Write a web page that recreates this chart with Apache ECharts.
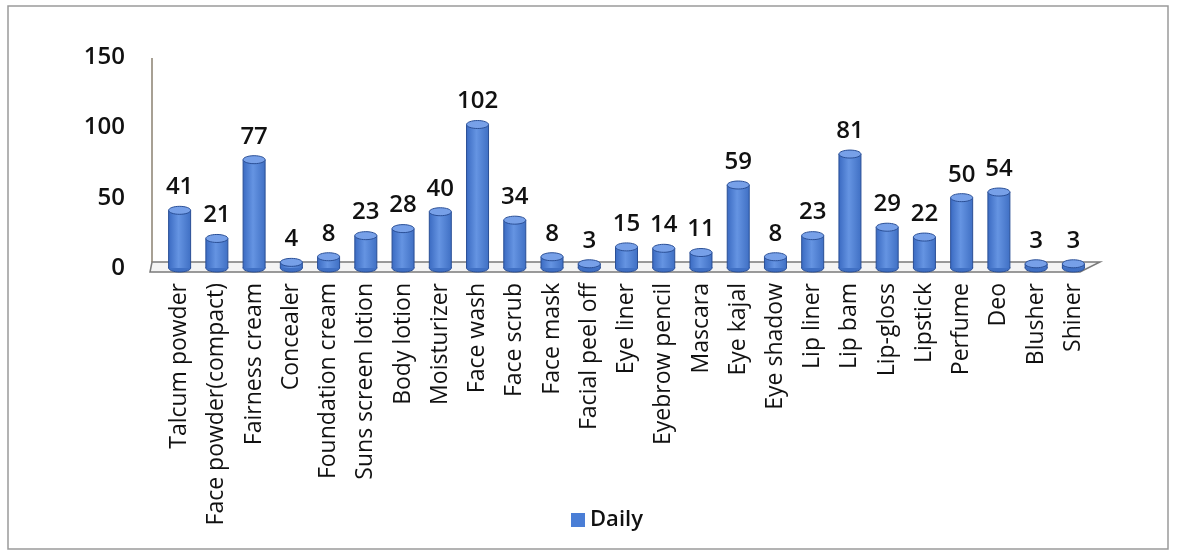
<!DOCTYPE html>
<html>
<head>
<meta charset="utf-8">
<script src="https://cdn.jsdelivr.net/npm/echarts@6/dist/echarts.min.js"></script>
<style>
html,body{margin:0;padding:0;background:#fff;}
#main{width:1177px;height:554px;}
</style>
</head>
<body>
<div id="main"></div>
<script>
// categories and values
var categories = ['Talcum powder','Face powder(compact)','Fairness cream','Concealer','Foundation cream',
    'Suns screen lotion','Body lotion','Moisturizer','Face wash','Face scrub','Face mask','Facial peel off',
    'Eye liner','Eyebrow pencil','Mascara','Eye kajal','Eye shadow','Lip liner','Lip bam','Lip-gloss',
    'Lipstick','Perfume','Deo','Blusher','Shiner'];
var daily = [41,21,77,4,8,23,28,40,102,34,8,3,15,14,11,59,8,23,81,29,22,50,54,3,3];
var yTicks = [0,50,100,150];

var chart = echarts.init(document.getElementById('main'));

// cylinder bar
function renderCylinder(params, api){
    var top = api.coord([api.value(0), api.value(1)]);
    var base = api.coord([api.value(0), 0]);
    var w = 22, ry = 4;
    var x = top[0] - w/2;
    var grad = new echarts.graphic.LinearGradient(0,0,1,0,[
        {offset:0,color:'#3b6bc2'},
        {offset:0.45,color:'#6594e2'},
        {offset:1,color:'#4070c4'}
    ]);
    return {
        type:'group',
        children:[
            {type:'ellipse',shape:{cx:top[0],cy:base[1],rx:w/2,ry:ry},style:{fill:'#4070c4',stroke:'#2a4f96',lineWidth:1}},
            {type:'rect',shape:{x:x,y:top[1],width:w,height:Math.max(base[1]-top[1],0)},style:{fill:grad}},
            {type:'line',shape:{x1:x,y1:top[1],x2:x,y2:base[1]},style:{stroke:'#2a4f96',lineWidth:1}},
            {type:'line',shape:{x1:x+w,y1:top[1],x2:x+w,y2:base[1]},style:{stroke:'#2a4f96',lineWidth:1}},
            {type:'ellipse',shape:{cx:top[0],cy:top[1],rx:w/2,ry:ry},style:{fill:'#77a0e8',stroke:'#2a4f96',lineWidth:1}},
            {type:'text',x:top[0],y:top[1]-11,style:{text:String(api.value(1)),fill:'#111',
                font:'600 24px "Open Sans"',align:'center',verticalAlign:'bottom'}}
        ]
    };
}

var option = {
    animation:false,
    graphic:[
        {type:'rect',shape:{x:8,y:6,width:1160,height:543},style:{fill:'none',stroke:'#9a9a9a',lineWidth:1.5},silent:true},
        // floor of the 3D plot area
        {type:'polygon',shape:{points:[[152,262],[1100,262],[1080,272],[150,272]]},
            style:{fill:'#f4f4f4',stroke:'#7a7a7a',lineWidth:1.5},z:-1,silent:true},
        {type:'line',shape:{x1:152,y1:58,x2:152,y2:262},style:{stroke:'#8a8170',lineWidth:1.5},silent:true}
    ],
    legend:{
        data:[{name:'Daily',icon:'rect',itemStyle:{color:'#4a7ed6'}}],
        left:566,
        top:504,
        itemWidth:14,
        itemHeight:14,
        itemGap:6,
        textStyle:{fontSize:22,fontWeight:600,color:'#111',fontFamily:'Open Sans'}
    },
    grid:{left:161,right:85,top:57,bottom:286},
    xAxis:{
        type:'category',
        data:categories,
        axisLine:{show:false},
        axisTick:{show:false},
        axisLabel:{rotate:90,interval:0,margin:15,fontSize:23,color:'#111',fontFamily:'Open Sans'}
    },
    yAxis:{
        type:'value',
        min:0,max:150,interval:50,
        axisLine:{show:false},
        axisTick:{show:false},
        splitLine:{show:false},
        axisLabel:{margin:36,fontSize:24,fontWeight:600,color:'#111',fontFamily:'Open Sans',
            formatter:function(v){return yTicks.indexOf(v)>=0?String(v):'';}}
    },
    series:[{
        name:'Daily',
        type:'custom',
        renderItem:renderCylinder,
        itemStyle:{color:'#4a7ed6'},
        encode:{x:0,y:1},
        data:daily.map(function(v,i){return [i,v];})
    }]
};
chart.setOption(option);
</script>
</body>
</html>
